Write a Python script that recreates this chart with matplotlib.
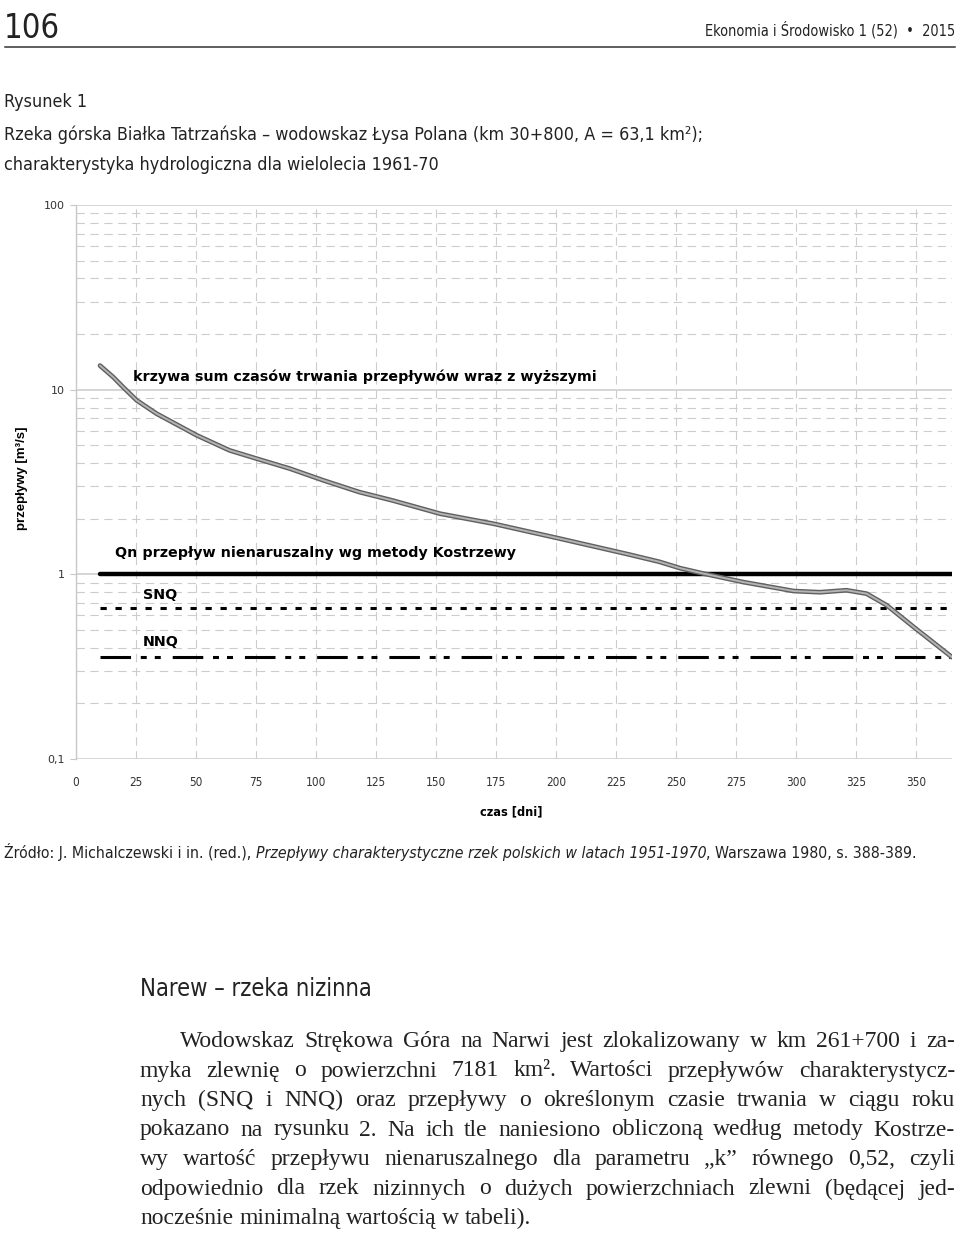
import numpy as np
import matplotlib
matplotlib.use('Agg')
import matplotlib.pyplot as plt
from matplotlib import font_manager

# flow duration curve (days, m3/s)
days = [10, 15.5, 19.7, 25.3, 33.6, 50.3, 64, 75.3, 89, 103, 118, 132, 151.7, 173.9,
        201.7, 229.4, 243, 251.7, 261.4, 278, 299, 310, 321, 329.4, 337.8, 349, 365]
flows = [13.5, 11.7, 10.3, 8.75, 7.41, 5.66, 4.69, 4.23, 3.74, 3.23, 2.79, 2.51, 2.13, 1.88,
         1.56, 1.29, 1.17, 1.08, 1.01, 0.908, 0.812, 0.80, 0.82, 0.786, 0.68, 0.519, 0.356]

# characteristic flows
qn = 1.0
snq = 0.655
nnq = 0.356
line_span = [10, 365]

x_ticks = list(range(0, 351, 25))
y_ticks = [0.1, 1, 10, 100]
y_ticklabels = ['0,1', '1', '10', '100']

W, H = 960, 1237
plt.rcParams['lines.scale_dashes'] = False

# look for a narrow sans font, else plain Liberation Sans
narrow, stretch = 'Liberation Sans', 'normal'
for f in font_manager.fontManager.ttflist:
    if 'Narrow' in f.name or 'Condensed' in f.name:
        narrow, stretch = f.name, 'normal'
        break
    if f.stretch in ('condensed', 'semi-condensed') and f.name in ('DejaVu Sans', 'Roboto', 'Open Sans', 'Noto Sans'):
        narrow, stretch = f.name, f.stretch
        break

fig = plt.figure(figsize=(W / 100, H / 100), dpi=100)
renderer = fig.canvas.get_renderer()


def px(x, y):
    return x / W, 1 - y / H


def put(x, y, s, **kw):
    return fig.text(*px(x, y), s, **kw)


def width_of(t):
    return t.get_window_extent(renderer).width


def fit(texts, target, cap=None):
    # scale font size so the texts together span the target width
    total = sum(width_of(t) for t in texts)
    size = texts[0].get_fontsize() * target / total
    if cap:
        size = min(size, cap)
    for t in texts:
        t.set_fontsize(size)
    return size


nar = dict(family=narrow, fontstretch=stretch, color='#222222')

# page header
t = put(4, 38, '106', fontsize=30, va='baseline', **nar)
fit([t], 56, cap=34)
t = put(955, 35, 'Ekonomia i Środowisko 1 (52)  •  2015', fontsize=13, ha='right', va='baseline', **nar)
fit([t], 250, cap=14)
fig.add_artist(plt.Line2D([5 / W, 955 / W], [1 - 47 / H] * 2, color='#333333', lw=1.1))

# caption
caps = [put(4, 107, 'Rysunek 1', fontsize=15, va='baseline', **nar),
        put(4, 140, 'Rzeka górska Białka Tatrzańska – wodowskaz Łysa Polana (km 30+800, A = 63,1 km²);',
            fontsize=15, va='baseline', **nar),
        put(4, 170, 'charakterystyka hydrologiczna dla wielolecia 1961-70', fontsize=15, va='baseline', **nar)]
s = fit([caps[1]], 700, cap=17)
for c in caps:
    c.set_fontsize(s)

# chart
ax = fig.add_axes([76 / W, 1 - 759 / H, (952 - 76) / W, (759 - 205) / H])
ax.set_yscale('log')
ax.set_xlim(0, 365)
ax.set_ylim(0.1, 100)

ax.grid(True, which='major', axis='y', color='#d2d2d2', lw=1.3, ls='-')
ax.grid(True, which='minor', axis='y', color='#cccccc', lw=0.8, ls=(0, (6, 4)))
ax.grid(True, which='major', axis='x', color='#cccccc', lw=0.8, ls=(0, (6, 4)))
ax.set_axisbelow(True)
for side in ['top', 'right', 'bottom']:
    ax.spines[side].set_visible(False)
ax.spines['left'].set_color('#c8c8c8')
ax.spines['left'].set_linewidth(1.0)

ax.set_xticks(x_ticks)
ax.set_xticklabels([str(t) for t in x_ticks], family=narrow, fontstretch=stretch, fontsize=8.5, color='#333333')
ax.set_yticks(y_ticks)
ax.set_yticklabels(y_ticklabels, fontsize=8, color='#333333')
ax.tick_params(axis='x', length=0, pad=12)
ax.tick_params(axis='y', which='major', length=4, color='#c8c8c8', pad=4)
ax.tick_params(axis='y', which='minor', length=0)
ax.yaxis.set_minor_formatter(plt.NullFormatter())

ax.plot(line_span, [qn, qn], color='black', lw=3.2, solid_capstyle='round')
ax.plot(line_span, [snq, snq], color='black', lw=2.2, ls=(0, (4.5, 6.3)))
ax.plot(line_span, [nnq, nnq], color='black', lw=2.2, ls=(0, (22, 7, 4.3, 5.8, 4.3, 8.6)))
ax.plot(days, flows, color='#606060', lw=3.4, solid_capstyle='round', solid_joinstyle='round')
ax.plot(days, flows, color='#b4b4b4', lw=1.4, solid_capstyle='round', solid_joinstyle='round')

lab = dict(fontsize=10.3, fontweight='bold', va='center', color='black')
ax.text(23.75, 11.7, 'krzywa sum czasów trwania przepływów wraz z wyższymi', **lab)
ax.text(16.25, 1.30, 'Qn przepływ nienaruszalny wg metody Kostrzewy', **lab)
ax.text(27.9, 0.77, 'SNQ', **lab)
ax.text(27.9, 0.428, 'NNQ', **lab)

t = put(511, 812, 'czas [dni]', fontsize=10, fontweight='bold', ha='center', va='center',
        family=narrow, fontstretch=stretch)
fit([t], 62, cap=10.5)
put(22, 478, 'przepływy [m³/s]', family='Liberation Sans', fontsize=9.5, fontweight='bold',
    rotation=90, ha='center', va='center')

# source line with italic title
src = [('Źródło: J. Michalczewski i in. (red.), ', 'normal'),
       ('Przepływy charakterystyczne rzek polskich w latach 1951-1970', 'italic'),
       (', Warszawa 1980, s. 388-389.', 'normal')]
pieces = [put(4, 858, s_, fontsize=13, style=st, va='baseline', **nar) for s_, st in src]
fit(pieces, 908, cap=14)
x = 4
for t in pieces:
    t.set_position(px(x, 858))
    x += width_of(t)

# section heading
t = put(140, 996, 'Narew – rzeka nizinna', fontsize=19, va='baseline', **nar)
fit([t], 232, cap=21)

# body paragraph, justified
body = [
    'Wodowskaz Strękowa Góra na Narwi jest zlokalizowany w km 261+700 i za-',
    'myka zlewnię o powierzchni 7181 km². Wartości przepływów charakterystycz-',
    'nych (SNQ i NNQ) oraz przepływy o określonym czasie trwania w ciągu roku',
    'pokazano na rysunku 2. Na ich tle naniesiono obliczoną według metody Kostrze-',
    'wy wartość przepływu nienaruszalnego dla parametru „k” równego 0,52, czyli',
    'odpowiednio dla rzek nizinnych o dużych powierzchniach zlewni (będącej jed-',
    'nocześnie minimalną wartością w tabeli).',
]
body_kw = dict(family='Liberation Serif', va='baseline', color='#222222')
probe = put(500, 500, 'pokazano na rysunku 2. Na ich tle naniesiono obliczoną według metody Kostrze-',
            fontsize=17, **body_kw)
body_size = fit([probe], 815, cap=17)
probe.remove()
probe = put(500, 500, 'a a', fontsize=body_size, **body_kw)
space = width_of(probe)
probe.set_text('aa')
space -= width_of(probe)
probe.remove()

for i, line in enumerate(body):
    y = 1047 + 29.5 * i
    x0 = 180 if i == 0 else 140
    words = line.split(' ')
    texts = [put(x0, y, w, fontsize=body_size, **body_kw) for w in words]
    widths = [width_of(t) for t in texts]
    if i == len(body) - 1:
        gap = space
    else:
        gap = max(space * 0.6, (955 - x0 - sum(widths)) / (len(words) - 1))
    xx = x0
    for t, w in zip(texts, widths):
        t.set_position(px(xx, y))
        xx += w + gap

fig.savefig('out.png', dpi=100)
